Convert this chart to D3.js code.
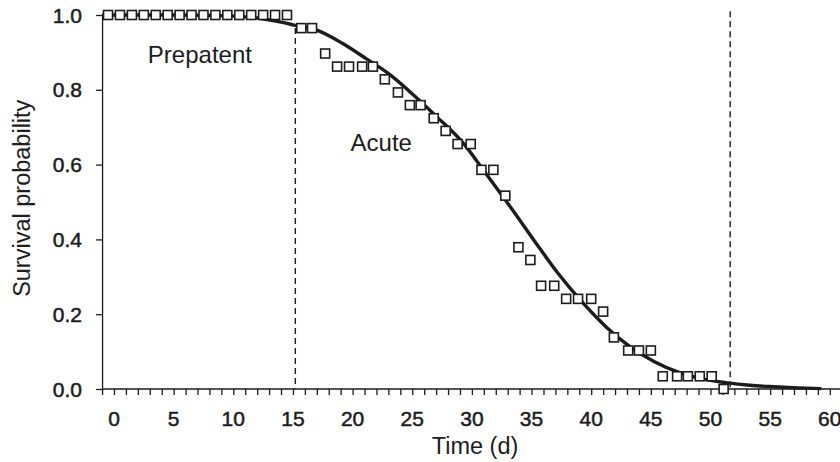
<!DOCTYPE html>
<html>
<head>
<meta charset="utf-8">
<script src="https://cdn.jsdelivr.net/npm/d3@7"></script>
<style>
  body { margin: 0; background: #fff; }
  svg { font-family: "Liberation Sans", Arial, Helvetica, sans-serif; }
</style>
</head>
<body>
<svg id="chart"></svg>
<script>
// observed survival (squares)
const obsDays = [-0.5, 0.5, 1.5, 2.5, 3.5, 4.5, 5.5, 6.5, 7.5, 8.5, 9.5, 10.5, 11.5, 12.5, 13.5, 14.5,
    15.7, 16.6, 17.7, 18.7, 19.7, 20.8, 21.7, 22.7, 23.8, 24.8, 25.7, 26.8, 27.8, 28.8, 29.9, 30.8,
    31.8, 32.8, 33.9, 34.9, 35.8, 36.9, 37.9, 38.9, 40.0, 41.0, 41.9, 43.1, 44.0, 45.0, 46.0, 47.2,
    48.1, 49.1, 50.1, 51.1];
const obsSurvival = [1, 1, 1, 1, 1, 1, 1, 1, 1, 1, 1, 1, 1, 1, 1, 1,
    0.965, 0.965, 0.897, 0.862, 0.862, 0.862, 0.862, 0.828, 0.793, 0.759, 0.759, 0.724, 0.690, 0.655, 0.655, 0.586,
    0.586, 0.517, 0.379, 0.345, 0.276, 0.276, 0.241, 0.241, 0.241, 0.207, 0.138, 0.103, 0.103, 0.103, 0.034, 0.034,
    0.034, 0.034, 0.034, 0.0];

// fitted curve
const fitDays = [-1, 5, 10, 12, 14, 15.1, 17.1, 19.1, 21.1, 23.15, 25.15, 27.15, 29.2, 31.2, 33.2, 35.2, 37.2,
    39.25, 41.25, 43.25, 45.3, 47.3, 49.3, 51.3, 53.3, 55.3, 57.35, 59.3];
const fitSurvival = [1, 1, 0.997, 0.992, 0.981, 0.973, 0.958, 0.925, 0.884, 0.840, 0.785, 0.725, 0.660, 0.575, 0.488,
    0.398, 0.310, 0.232, 0.166, 0.113, 0.073, 0.045, 0.027, 0.017, 0.010, 0.006, 0.003, 0.001];

// phase boundaries (dashed lines)
const phaseDays = [15.2, 51.65];
const phaseTop = [0.965, 1.01];
const phaseNames = ['Prepatent', 'Acute'];

const xTicks = [0, 5, 10, 15, 20, 25, 30, 35, 40, 45, 50, 55, 60];
const yTicks = [0, 0.2, 0.4, 0.6, 0.8, 1.0];

const width = 840, height = 462;
const ink = '#1c1c1c';

const svg = d3.select('#chart')
    .attr('width', width)
    .attr('height', height);
svg.append('rect').attr('width', width).attr('height', height).attr('fill', '#fff');

const xscale = d3.scaleLinear().domain([0, 60]).range([114, 114 + 60 * 11.93]);
const yscale = d3.scaleLinear().domain([0, 1]).range([389, 15]);

// x axis: minor ticks each day, labels every 5
const xaxis = d3.axisBottom(xscale)
    .tickValues(d3.range(-1, 62))
    .tickSize(6)
    .tickSizeOuter(0)
    .tickFormat('');
const xg = svg.append('g')
    .attr('transform', `translate(0, ${yscale(0)})`)
    .call(xaxis);
xg.select('.domain').attr('d', `M${xscale(-1)},0H840`);
xg.selectAll('line, path').attr('stroke', ink).attr('stroke-width', 1.3);

svg.append('g').selectAll('text')
    .data(xTicks)
    .join('text')
    .attr('x', d => xscale(d))
    .attr('y', 426)
    .attr('text-anchor', 'middle')
    .style('font-size', '21px')
    .attr('fill', ink)
    .attr('stroke', ink)
    .attr('stroke-width', 0.5)
    .text(d => d);

// y axis
const yaxis = d3.axisLeft(yscale)
    .tickValues(yTicks)
    .tickSize(6)
    .tickSizeOuter(0)
    .tickFormat('');
const yg = svg.append('g')
    .attr('transform', `translate(${xscale(-1)}, 0)`)
    .call(yaxis);
yg.selectAll('line, path').attr('stroke', ink).attr('stroke-width', 1.3);

svg.append('g').selectAll('text')
    .data(yTicks)
    .join('text')
    .attr('x', 82)
    .attr('y', d => yscale(d))
    .attr('dy', '0.36em')
    .attr('text-anchor', 'end')
    .style('font-size', '21px')
    .attr('fill', ink)
    .attr('stroke', ink)
    .attr('stroke-width', 0.5)
    .text(d => d3.format('.1f')(d));

// axis titles
svg.append('text')
    .attr('x', 475)
    .attr('y', 454)
    .attr('text-anchor', 'middle')
    .style('font-size', '23.5px')
    .attr('fill', ink)
    .text('Time (d)');
svg.append('text')
    .attr('transform', `translate(30, ${yscale(0.51)}) rotate(-90)`)
    .attr('text-anchor', 'middle')
    .style('font-size', '23.5px')
    .attr('fill', ink)
    .text('Survival probability');

// dashed phase lines
svg.append('g').selectAll('line')
    .data(phaseDays)
    .join('line')
    .attr('x1', d => xscale(d))
    .attr('x2', d => xscale(d))
    .attr('y1', (d, i) => yscale(phaseTop[i]))
    .attr('y2', yscale(0))
    .attr('stroke', ink)
    .attr('stroke-width', 1.4)
    .attr('stroke-dasharray', '6,4');

// phase labels
svg.append('text')
    .attr('x', xscale(7.2))
    .attr('y', yscale(0.872))
    .attr('text-anchor', 'middle')
    .style('font-size', '24px')
    .attr('fill', ink)
    .text(phaseNames[0]);
svg.append('text')
    .attr('x', xscale(22.4))
    .attr('y', yscale(0.636))
    .attr('text-anchor', 'middle')
    .style('font-size', '24px')
    .attr('fill', ink)
    .text(phaseNames[1]);

// fitted curve
const fit = fitDays.map((d, i) => ({t: d, s: fitSurvival[i]}));
svg.append('path')
    .datum(fit)
    .attr('fill', 'none')
    .attr('stroke', ink)
    .attr('stroke-width', 3.4)
    .attr('d', d3.line()
        .x(d => xscale(d.t))
        .y(d => yscale(d.s))
        .curve(d3.curveMonotoneX));

// observed squares
const obs = obsDays.map((d, i) => ({t: d, s: obsSurvival[i]}));
const sq = 9;
svg.append('g').selectAll('rect')
    .data(obs)
    .join('rect')
    .attr('x', d => xscale(d.t) - sq / 2)
    .attr('y', d => yscale(d.s) - sq / 2)
    .attr('width', sq)
    .attr('height', sq)
    .attr('fill', '#fff')
    .attr('stroke', ink)
    .attr('stroke-width', 1.6);
</script>
</body>
</html>
